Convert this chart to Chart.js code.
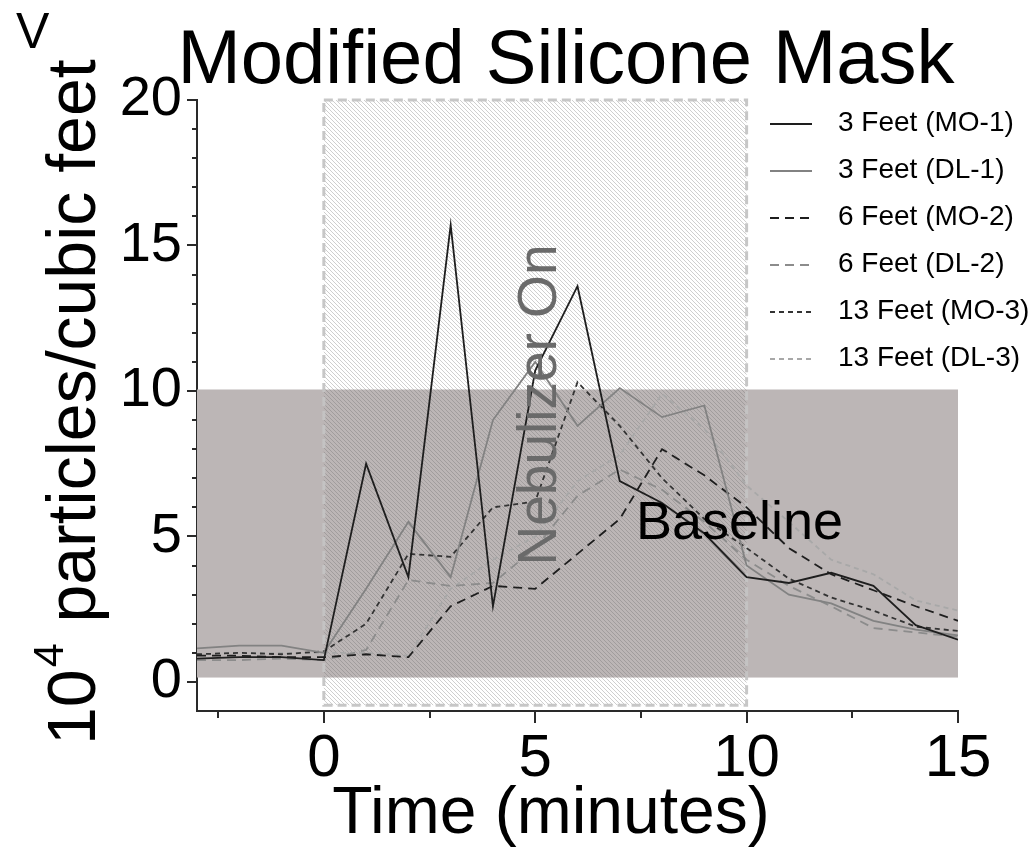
<!DOCTYPE html>
<html>
<head>
<meta charset="utf-8">
<title>Modified Silicone Mask</title>
<script src="https://cdn.jsdelivr.net/npm/chart.js@4.4.1/dist/chart.umd.min.js"></script>
<style>
  html, body { margin: 0; padding: 0; background: #ffffff; }
  #wrap { width: 1036px; height: 847px; position: relative; }
</style>
</head>
<body>
<div id="wrap"><canvas id="chart" width="1036" height="847"></canvas></div>
<script>
// Sampling times (minutes) and particle counts (10^4 particles / cubic feet)
const minutes = [-3, -2, -1, 0, 1, 2, 3, 4, 5, 6, 7, 8, 9, 10, 11, 12, 13, 14, 15];

const feet3MO = [0.8, 0.85, 0.85, 0.75, 7.5, 3.6, 15.7, 2.6, 10.7, 13.6, 6.9, 6.15, 5.1, 3.6, 3.4, 3.75, 3.3, 1.95, 1.45];
const feet3DL = [1.15, 1.25, 1.25, 1.0, 3.2, 5.5, 3.6, 9.0, 11.0, 8.8, 10.1, 9.1, 9.5, 4.0, 3.0, 2.7, 2.1, 1.8, 1.6];
const feet6MO = [0.9, 0.9, 0.85, 0.85, 0.95, 0.85, 2.6, 3.3, 3.2, 4.4, 5.6, 8.0, 7.1, 6.0, 4.6, 3.7, 3.15, 2.6, 2.1];
const feet6DL = [0.75, 0.75, 0.8, 0.75, 1.1, 3.5, 3.3, 3.4, 4.6, 6.4, 7.3, 6.6, 5.5, 4.2, 3.3, 2.6, 1.85, 1.7, 1.55];
const feet13MO = [0.95, 1.0, 0.95, 1.05, 2.0, 4.4, 4.3, 6.0, 6.2, 10.3, 8.8, 7.0, 5.6, 4.6, 3.55, 2.9, 2.45, 1.9, 1.75];
const feet13DL = [0.95, 1.0, 1.0, 1.0, 1.0, 0.9, 3.2, 4.2, 5.0, 6.9, 7.8, 9.9, 8.7, 6.75, 5.5, 4.2, 3.7, 2.8, 2.45];

const seriesLabels = ['3 Feet (MO-1)', '3 Feet (DL-1)', '6 Feet (MO-2)', '6 Feet (DL-2)', '13 Feet (MO-3)', '13 Feet (DL-3)'];

// Axis tick labels
const xTickLabels = [0, 5, 10, 15];
const yTickLabels = [0, 5, 10, 15, 20];

// Shaded regions
const nebulizerWindow = [0, 10];      // minutes the nebulizer runs
const nebulizerSpan = [-0.8, 20];     // vertical extent of that window
const baselineBand = [0.15, 10.05];   // background particle level

const FONT = '"Liberation Sans", Arial, Helvetica, sans-serif';

const toPoints = (ys) => minutes.map((m, i) => ({ x: m, y: ys[i] }));

const lineStyles = [
  { color: '#1e1e1e', dash: [] },
  { color: '#828282', dash: [] },
  { color: '#1e1e1e', dash: [9, 6] },
  { color: '#8c8c8c', dash: [9, 6] },
  { color: '#333333', dash: [5, 4] },
  { color: '#a8a8a8', dash: [5, 4] }
];

const seriesValues = [feet3MO, feet3DL, feet6MO, feet6DL, feet13MO, feet13DL];

const datasets = seriesValues.map((vals, i) => ({
  label: seriesLabels[i],
  data: toPoints(vals),
  borderColor: lineStyles[i].color,
  borderDash: lineStyles[i].dash,
  borderWidth: 1.8,
  pointRadius: 0,
  tension: 0,
  fill: false
}));

// Diagonal hatch used for the nebulizer window
function makeHatch(ctx) {
  const tile = document.createElement('canvas');
  tile.width = 4; tile.height = 4;
  const t = tile.getContext('2d');
  t.strokeStyle = 'rgba(105,105,105,0.32)';
  t.lineWidth = 1;
  t.beginPath();
  t.moveTo(0, 0); t.lineTo(4, 4);
  t.moveTo(-2, 2); t.lineTo(2, 6);
  t.moveTo(2, -2); t.lineTo(6, 2);
  t.stroke();
  return ctx.createPattern(tile, 'repeat');
}

const backdrop = {
  id: 'backdrop',
  beforeDatasetsDraw(chart) {
    const { ctx, scales: { x, y } } = chart;
    ctx.save();
    const bl = x.getPixelForValue(x.min), br = x.getPixelForValue(x.max);
    const bt = y.getPixelForValue(baselineBand[1]), bb = y.getPixelForValue(baselineBand[0]);
    ctx.fillStyle = '#bcb6b6';
    ctx.fillRect(bl, bt, br - bl, bb - bt);

    const nl = x.getPixelForValue(nebulizerWindow[0]), nr = x.getPixelForValue(nebulizerWindow[1]);
    const nt = y.getPixelForValue(nebulizerSpan[1]), nb = y.getPixelForValue(nebulizerSpan[0]);
    ctx.fillStyle = makeHatch(ctx);
    ctx.fillRect(nl, nt, nr - nl, nb - nt);
    ctx.setLineDash([9, 5]);
    ctx.lineWidth = 3;
    ctx.strokeStyle = 'rgba(196,196,196,0.95)';
    ctx.strokeRect(nl, nt, nr - nl, nb - nt);
    ctx.restore();
  }
};

// Outward tick marks: long on labelled values, short in between
const tickMarks = {
  id: 'tickMarks',
  afterDraw(chart) {
    const { ctx, scales: { x, y }, chartArea } = chart;
    ctx.save();
    ctx.strokeStyle = '#2a2a2a';
    ctx.lineWidth = 2;
    ctx.beginPath();
    x.ticks.forEach(t => {
      const px = Math.round(x.getPixelForValue(t.value));
      const len = xTickLabels.includes(t.value) ? 12 : 7;
      ctx.moveTo(px, chartArea.bottom);
      ctx.lineTo(px, chartArea.bottom + len);
    });
    y.ticks.forEach(t => {
      if (t.value < 0) return;
      const py = Math.round(y.getPixelForValue(t.value));
      const len = yTickLabels.includes(t.value) ? 10 : 5;
      ctx.moveTo(chartArea.left, py);
      ctx.lineTo(chartArea.left - len, py);
    });
    ctx.stroke();
    ctx.restore();
  }
};

const annotations = {
  id: 'annotations',
  afterDraw(chart) {
    const { ctx } = chart;
    ctx.save();
    ctx.fillStyle = '#000';
    ctx.textBaseline = 'alphabetic';

    // Title
    ctx.font = '76px ' + FONT;
    ctx.textAlign = 'center';
    ctx.fillText('Modified Silicone Mask', 566, 83);

    ctx.textAlign = 'left';
    ctx.font = '50px ' + FONT;
    ctx.fillText('V', 16, 48);

    // X axis title
    ctx.font = '66px ' + FONT;
    ctx.textAlign = 'center';
    ctx.fillText('Time (minutes)', 551, 833);

    // Y axis title with superscript exponent
    ctx.save();
    ctx.translate(95, 745);
    ctx.rotate(-Math.PI / 2);
    ctx.textAlign = 'left';
    ctx.font = '68px ' + FONT;
    const w10 = ctx.measureText('10').width;
    ctx.fillText('10', 0, 0);
    ctx.font = '43px ' + FONT;
    const w4 = ctx.measureText('4').width;
    ctx.fillText('4', w10 + 2, -32);
    ctx.font = '68px ' + FONT;
    ctx.fillText(' particles/cubic feet', w10 + w4 + 4, 0);
    ctx.restore();

    // Region labels
    ctx.save();
    ctx.translate(556, 405);
    ctx.rotate(-Math.PI / 2);
    ctx.textAlign = 'center';
    ctx.font = '55px ' + FONT;
    ctx.fillStyle = '#6a6a6a';
    ctx.fillText('Nebulizer On', 0, 0);
    ctx.restore();

    ctx.font = '54px ' + FONT;
    ctx.textAlign = 'left';
    ctx.fillStyle = '#000';
    ctx.fillText('Baseline', 636, 539);

    // Legend
    ctx.font = '28px ' + FONT;
    ctx.textBaseline = 'middle';
    chart.data.datasets.forEach((ds, i) => {
      const yy = 123 + i * 47;
      ctx.save();
      ctx.strokeStyle = ds.borderColor;
      ctx.lineWidth = 2;
      ctx.setLineDash(ds.borderDash || []);
      ctx.beginPath();
      ctx.moveTo(770, yy + 1);
      ctx.lineTo(812, yy + 1);
      ctx.stroke();
      ctx.restore();
      ctx.fillStyle = '#000';
      ctx.fillText(ds.label, 838, yy);
    });
    ctx.restore();
  }
};

new Chart(document.getElementById('chart'), {
  type: 'line',
  data: { datasets },
  plugins: [backdrop, tickMarks, annotations],
  options: {
    responsive: false,
    animation: false,
    devicePixelRatio: 1,
    layout: { padding: { left: 0, right: 78, top: 100, bottom: 0 } },
    plugins: { legend: { display: false }, tooltip: { enabled: false } },
    scales: {
      x: {
        type: 'linear',
        position: 'bottom',
        min: -3,
        max: 15,
        grid: { display: true, drawOnChartArea: false, drawTicks: true, tickLength: 10, color: 'rgba(0,0,0,0)' },
        border: { display: true, color: '#2a2a2a', width: 2 },
        ticks: {
          stepSize: 2.5,
          includeBounds: false,
          autoSkip: false,
          maxRotation: 0,
          padding: 2,
          color: '#000',
          font: { family: FONT, size: 60 },
          callback: (v) => xTickLabels.includes(v) ? String(v) : ''
        },
        afterFit: (s) => { s.height = 136; }
      },
      y: {
        type: 'linear',
        min: -1,
        max: 20,
        grid: { display: true, drawOnChartArea: false, drawTicks: true, tickLength: 10, color: 'rgba(0,0,0,0)' },
        border: { display: true, color: '#2a2a2a', width: 2 },
        ticks: {
          stepSize: 1,
          autoSkip: false,
          padding: 5,
          color: '#000',
          font: { family: FONT, size: 56 },
          callback: (v) => yTickLabels.includes(v) ? String(v) : ''
        },
        afterFit: (s) => { s.width = 197; }
      }
    }
  }
});
</script>
</body>
</html>
